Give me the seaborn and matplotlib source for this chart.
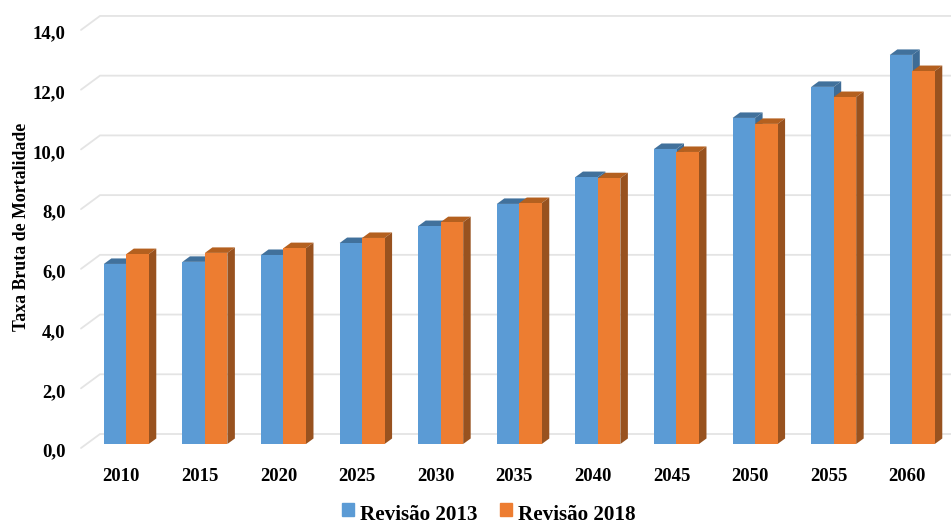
import matplotlib
matplotlib.use("Agg")
import matplotlib.pyplot as plt
from matplotlib.patches import Patch, Polygon
from matplotlib.transforms import ScaledTranslation
import pandas as pd
import seaborn as sns

anos = ["2010", "2015", "2020", "2025", "2030", "2035", "2040", "2045", "2050", "2055", "2060"]
revisao_2013 = [6.03, 6.10, 6.33, 6.73, 7.30, 8.04, 8.94, 9.88, 10.92, 11.96, 13.03]
revisao_2018 = [6.36, 6.40, 6.56, 6.90, 7.43, 8.07, 8.90, 9.78, 10.72, 11.62, 12.49]
grid_vals = [0, 2, 4, 6, 8, 10, 12, 14]
grid_labels = ["0,0", "2,0", "4,0", "6,0", "8,0", "10,0", "12,0", "14,0"]

cores = ["#5B9BD5", "#ED7D31"]
topo = ["#41719C", "#B4601F"]
lado = ["#3E6C96", "#98521F"]
cor_grade = "#E4E4E4"

# pixel scale of the reference
W, H = 951, 522
px_x = 78.6    # px per category
px_y = 29.86   # px per unit
x0_px = 126.3  # px of first category
y0_px = 444    # px of value 0

sns.set_theme(style="white")
plt.rcParams["font.family"] = ["Liberation Serif", "DejaVu Serif"]
plt.rcParams["font.weight"] = "bold"
plt.rcParams["text.color"] = "black"

dat = pd.DataFrame({
    "ano": anos * 2,
    "taxa": revisao_2013 + revisao_2018,
    "serie": ["Revisão 2013"] * len(anos) + ["Revisão 2018"] * len(anos),
})

fig = plt.figure(figsize=(W / 100, H / 100), dpi=100)
left_px = 81
ax = fig.add_axes([left_px / W, (H - y0_px) / H, (W - left_px) / W, y0_px / H])

sns.barplot(data=dat, x="ano", y="taxa", hue="serie", palette=cores, width=0.572,
            gap=0, saturation=1, ax=ax, legend=False)

ax.set_xlim((left_px - x0_px) / px_x, (W - x0_px) / px_x)
ax.set_ylim(0, y0_px / px_y)

# depth of the bars
dx = 7.5 / px_x
dy = 5.5 / px_y
for i, cont in enumerate(ax.containers):
    for bar in cont:
        x, w, h = bar.get_x(), bar.get_width(), bar.get_height()
        bar.set_zorder(2.5 + i)
        bar.set_linewidth(0)
        ax.add_patch(Polygon([(x, h), (x + w, h), (x + w + dx, h + dy), (x + dx, h + dy)],
                             closed=True, fc=topo[i], lw=0, zorder=2 + i))
        ax.add_patch(Polygon([(x + w, 0), (x + w + dx, dy), (x + w + dx, h + dy), (x + w, h)],
                             closed=True, fc=lado[i], lw=0, zorder=2 + i))

# back wall lines with the short slanted part on the left
parede_x = (100 - x0_px) / px_x
borda_x = (left_px - x0_px) / px_x
atras = 10 / px_y
frente = -4 / px_y
for v in grid_vals:
    ax.plot([borda_x, parede_x, ax.get_xlim()[1]], [v + frente, v + atras, v + atras],
            color=cor_grade, lw=1.3, zorder=1, clip_on=False, solid_joinstyle="miter")

ax.set_yticks(grid_vals, grid_labels)
ax.set_ylabel("")
ax.set_xlabel("")
ax.tick_params(axis="both", length=0, labelsize=13.5, colors="black")
ax.tick_params(axis="y", pad=11)
ax.tick_params(axis="x", pad=17)
for lab in ax.get_yticklabels():
    lab.set_fontweight("bold")
    lab.set_transform(lab.get_transform() + ScaledTranslation(0, -6 / 100, fig.dpi_scale_trans))
for lab in ax.get_xticklabels():
    lab.set_fontweight("bold")
    lab.set_transform(lab.get_transform() + ScaledTranslation(-5 / 100, 0, fig.dpi_scale_trans))

sns.despine(ax=ax, left=True, bottom=True)

fig.text(21.5 / W, 1 - 226.5 / H, "Taxa Bruta de Mortalidade", rotation=90, ha="center", va="center",
         fontsize=12.8, fontweight="bold", color="black")

handles = [Patch(color=cores[0], label="Revisão 2013"), Patch(color=cores[1], label="Revisão 2018")]
leg = fig.legend(handles=handles, loc="center", bbox_to_anchor=(489 / W, 1 - 515 / H), ncol=2, frameon=False,
                 prop={"size": 15.2, "weight": "bold"}, handlelength=0.57, handleheight=0.57,
                 handletextpad=0.28, columnspacing=1.08, borderpad=0)
# squares sit higher than the text in the reference
for h in leg.legend_handles:
    h.set_y(h.get_y() + 2.2)

fig.savefig("out.png", dpi=100)
